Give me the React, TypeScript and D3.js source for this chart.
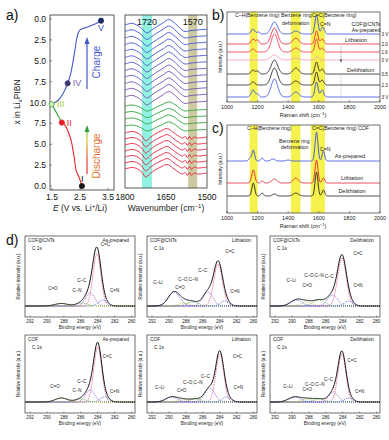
import React, { useRef, useEffect } from 'react';
import * as d3 from 'd3';

const FONT = 'Liberation Sans, Arial, Helvetica, sans-serif';

// ---- a) left: potential profile (x = potential, y = Li content, folded axis 0..10..0)
const dischargeCurve = [[2.57, 0], [2.47, 1.0], [2.36, 1.9], [2.29, 3.5], [2.18, 5.5], [2.08, 6.5], [1.96, 7.3], [1.85, 7.6]];
const transitionCurve = [[1.85, 7.6], [1.67, 8.7], [1.49, 9.8]];
const chargeCurve = [[1.49, 9.8], [1.73, 10.3], [1.9, 11.1], [2.06, 12.3], [2.17, 13.5], [2.24, 14.7], [2.32, 16.3], [2.4, 17.9], [2.5, 18.7], [2.74, 19.0], [3.04, 19.4], [3.25, 19.8]];
const stageNames = ['I', 'II', 'III', 'IV', 'V'];
const stageE = [2.57, 1.85, 1.49, 2.06, 3.25];
const stageLi = [0, 7.6, 9.8, 12.3, 19.8];
const liTicks = [0, 2.5, 5, 7.5, 10, 12.5, 15, 17.5, 20];
const liTickLabels = ['0.0', '2.5', '5.0', '7.5', '10.0', '7.5', '5.0', '2.5', '0.0'];
const potentialTicks = [1.5, 2.5, 3.5];

// ---- a) right: ex-situ FTIR, three spectral shapes
const ftirBlue = [[1800, 0], [1775, 1.7], [1757, 0], [1739, -3.3], [1721, -8], [1702, -5], [1684, -1.7], [1660, 2.3], [1640, 5.5], [1617, 1.7], [1599, -3.3], [1580, -6.5], [1562, -5.7], [1538, -5], [1500, -4.3]];
const ftirGreen = [[1800, 0], [1775, 1], [1757, 0], [1739, -2], [1721, -5], [1702, -3.5], [1684, -1], [1660, 2], [1640, 4], [1617, 1.5], [1599, -2.5], [1580, -5], [1562, -4.5], [1538, -4], [1500, -3.5]];
const ftirRed = [[1800, 0], [1775, 1.5], [1757, 0.5], [1739, -3], [1724, -8], [1710, -5], [1690, -1], [1665, 2.5], [1645, 4.5], [1625, 1], [1605, -3], [1590, -5], [1580, -3.5], [1572, -6.5], [1564, -3.5], [1556, -6.5], [1548, -4], [1535, -5], [1500, -4]];
const ftirOffsets = [163, 156.5, 150, 143.5, 137, 130.5, 124, 117.5, 111, 104.5, 98, 91, 82, 75.5, 69, 62, 55, 49, 43, 37, 31, 25, 19];
const ftirShapeIdx = [0, 0, 0, 0, 0, 0, 0, 0, 0, 0, 0, 0, 1, 1, 1, 1, 2, 2, 2, 2, 2, 2, 2];
const ftirBands = [[1738, 1701], [1569, 1536]];
const ftirBandLabels = ['1720', '1570'];
const ftirTicks = [1800, 1650, 1500];

// ---- b) Raman, COF@CNTs, peaks [shift, height, fwhm]
const ramanBLabels = ['3 V', '2.0', '1.6', '0 V', '0.5', '2.3', '3 V'];
const ramanBOffsets = [68, 58, 50, 42, 28, 17, 5];
const ramanBPeaks = [
  [[1170, 5, 28], [1205, 2, 22], [1310, 12, 50], [1450, 3, 45], [1585, 19, 24], [1626, 7, 24]],
  [[1170, 5, 28], [1200, 4, 22], [1310, 16, 50], [1450, 6, 45], [1585, 13, 24], [1622, 5, 24]],
  [[1170, 3, 28], [1310, 18, 50], [1450, 4, 45], [1585, 13, 24], [1622, 4, 24]],
  [[1310, 5, 55], [1450, 2, 45], [1590, 3, 30]],
  [[1170, 4, 28], [1200, 3, 22], [1310, 14, 50], [1450, 6, 45], [1585, 12, 24], [1622, 5, 24]],
  [[1170, 3, 28], [1310, 17, 50], [1450, 4, 45], [1585, 13, 24], [1622, 5, 24]],
  [[1170, 7, 28], [1200, 3, 22], [1310, 18, 50], [1450, 5, 45], [1585, 15, 24], [1622, 7, 24]],
];
// ---- c) Raman, COF
const ramanCLabels = ['As-prepared', 'Lithiation', 'Delithiation'];
const ramanCOffsets = [52, 30, 17];
const ramanCPeaks = [
  [[1150, 3, 18], [1172, 11, 20], [1230, 3, 20], [1300, 2, 30], [1400, 1, 30], [1585, 29, 22], [1630, 10, 20]],
  [[1172, 13, 24], [1230, 2, 20], [1310, 4, 40], [1450, 5, 40], [1585, 23, 22], [1630, 5, 20]],
  [[1172, 13, 22], [1230, 3, 20], [1310, 2, 30], [1450, 3, 40], [1585, 24, 22], [1630, 6, 20]],
];
const ramanBands = [[1148, 1200], [1418, 1480], [1548, 1640]];
const ramanTicks = [1000, 1200, 1400, 1600, 1800, 2000];

// ---- d) XPS C 1s fits, components [name, BE, height, fwhm]
const xpsSamples = ['COF@CNTs', 'COF@CNTs', 'COF@CNTs', 'COF', 'COF', 'COF'];
const xpsStates = ['As-prepared', 'Lithiation', 'Delithiation', 'As-prepared', 'Lithiation', 'Delithiation'];
const xpsComps: [string, number, number, number][][] = [
  [['C=C', 284.1, 52, 1.1], ['C–C', 284.9, 13, 1.3], ['C=N', 283.4, 6, 1.2], ['C–N', 285.9, 3, 1.5], ['C=O', 288.3, 2.5, 1.8]],
  [['C=C', 284.2, 42, 1.2], ['C–C', 285.4, 14, 1.4], ['C=N', 283.4, 5, 1.2], ['C–O,C–N', 287.2, 4, 1.6], ['C=O', 288.2, 3, 1.5], ['C–Li', 289.4, 14, 1.6]],
  [['C=C', 284.1, 48, 1.2], ['C–C', 285.2, 11, 1.4], ['C=N', 283.3, 5, 1.2], ['C–O,C–N', 286.8, 6, 1.6], ['C=O', 288.3, 4, 1.5], ['C–Li', 289.5, 6, 1.6]],
  [['C=C', 284.0, 55, 1.1], ['C–C', 284.9, 12, 1.3], ['C=N', 283.2, 5, 1.2], ['C–N', 286.0, 3, 1.5], ['C=O', 288.3, 4, 1.7]],
  [['C=C', 284.0, 48, 1.1], ['C–C', 285.2, 14, 1.4], ['C=N', 283.2, 5, 1.2], ['C–O,C–N', 286.9, 3, 1.6], ['C=O', 288.4, 2.5, 1.5], ['C–Li', 289.7, 5, 1.6]],
  [['C=C', 284.1, 48, 1.1], ['C–C', 285.1, 10, 1.3], ['C=N', 283.3, 4, 1.2], ['C–O,C–N', 286.8, 3, 1.6], ['C=O', 288.2, 3, 1.6], ['C–Li', 289.7, 5, 1.7]],
];
// annotation anchors [text, BE, intensity]
const xpsNotes: [string, number, number][][] = [
  [['C=O', 289.3, 16], ['C–N', 286.45, 14], ['C–C', 285.9, 24], ['C=N', 282.0, 14], ['C=C', 283.1, 60]],
  [['C–Li', 291.3, 22], ['C–O,C–N', 287.75, 25], ['C=O', 288.7, 17], ['C–C', 286.0, 34], ['C=C', 282.8, 53], ['C=N', 282.2, 13]],
  [['C–Li', 290.1, 24], ['C=O', 288.2, 19], ['C–O,C–N', 287.4, 29], ['C–C', 285.6, 28], ['C=C', 282.2, 51], ['C=N', 282.2, 19]],
  [['C=O', 289.05, 14], ['C–N', 286.45, 10], ['C–C', 285.9, 19], ['C=C', 282.9, 44], ['C=N', 282.0, 9]],
  [['C–Li', 291.1, 13], ['C=O', 288.5, 10], ['C–O,C–N', 287.2, 18], ['C–C', 285.7, 24], ['C=C', 281.9, 44], ['C=N', 281.8, 13]],
  [['C–Li', 290.5, 14], ['C=O', 288.2, 11], ['C–O,C–N', 287.3, 16], ['C–C', 285.7, 21], ['C=C', 282.9, 40], ['C=N', 282.0, 9]],
];
const xpsTicks = [292, 290, 288, 286, 284, 282, 280];

const compColors: Record<string, string> = {
  'C=C': '#e0306e', 'C–C': '#8a3cc8', 'C=N': '#2f4fe0', 'C–N': '#3aa33a',
  'C–O,C–N': '#3aa33a', 'C=O': '#b8c020', 'C–Li': '#3050d8',
};
const ftirColors = ['#3552d6', '#3a54d4', '#3f55d2', '#4456d0', '#4a56cc', '#5056c8', '#5756c4', '#5e55c0', '#6554bc', '#6c52b8', '#7350b4', '#7a4eb0', '#2ea33a', '#2ea33a', '#2ea33a', '#2ea33a', '#e8203a', '#e8203a', '#e8203a', '#e8203a', '#e8203a', '#e8203a', '#e8203a'];
const ramanBColors = ['#3550e0', '#e8203a', '#e83048', '#f29ac6', '#222', '#222', '#3550e0'];
const ramanCColors = ['#3550e0', '#e8203a', '#222'];

const gauss = (x: number, c: number, h: number, w: number) => h * Math.exp(-4 * Math.LN2 * ((x - c) / w) ** 2);

const App = () => {
  const ref = useRef<SVGSVGElement>(null);

  useEffect(() => {
    const svg = d3.select(ref.current);
    svg.selectAll('*').remove();
    svg.append('rect').attr('width', 389).attr('height', 440).attr('fill', '#fff');

    const txt = (x: number, y: number, s: string, size: number, fill = '#222', anchor = 'middle', rot = 0) => {
      const t = svg.append('text').attr('x', x).attr('y', y).attr('font-size', size).attr('fill', fill)
        .attr('text-anchor', anchor).attr('font-family', FONT).text(s);
      if (rot) t.attr('transform', `rotate(${rot},${x},${y})`);
      return t;
    };
    const frame = (x: number, y: number, w: number, h: number, sw = 0.8) =>
      svg.append('rect').attr('x', x).attr('y', y).attr('width', w).attr('height', h)
        .attr('fill', 'none').attr('stroke', '#333').attr('stroke-width', sw);

    //panel labels
    txt(6, 20, 'a)', 14, '#111', 'start');
    txt(212, 20, 'b)', 14, '#111', 'start');
    txt(212, 133, 'c)', 14, '#111', 'start');
    txt(6, 245, 'd)', 14, '#111', 'start');

    // ---------- a) left
    const xA = d3.scaleLinear().domain([1.5, 3.5]).range([52, 108]);
    const yA = d3.scaleLinear().domain([0, 20]).range([186, 19]);
    frame(50, 15, 64, 175);
    liTicks.forEach((v, i) => {
      svg.append('line').attr('x1', 50).attr('x2', 52).attr('y1', yA(v)).attr('y2', yA(v)).attr('stroke', '#333').attr('stroke-width', 0.6);
      txt(46, yA(v) + 3, liTickLabels[i], 8.5, '#111', 'end');
    });
    potentialTicks.forEach(v => {
      svg.append('line').attr('x1', xA(v)).attr('x2', xA(v)).attr('y1', 190).attr('y2', 188).attr('stroke', '#333').attr('stroke-width', 0.6);
      txt(xA(v), 200, d3.format('.1f')(v), 8.5, '#111');
    });
    const ax = txt(20, 102, 'x in Li', 8.5, '#222', 'middle', -90);
    ax.append('tspan').attr('font-size', 6).attr('dy', 2).text('x');
    ax.append('tspan').attr('dy', -2).text('PIBN');
    const ex = txt(80, 211, '', 8.5);
    ex.append('tspan').attr('font-style', 'italic').text('E');
    ex.append('tspan').text(' (V vs. Li');
    ex.append('tspan').attr('font-size', 6).attr('dy', -3).text('+');
    ex.append('tspan').attr('dy', 3).text('/Li)');

    const lineA = d3.line<number[]>().x(d => xA(d[0])).y(d => yA(d[1])).curve(d3.curveCatmullRom);
    svg.append('path').attr('d', lineA(dischargeCurve)).attr('fill', 'none').attr('stroke', '#e8202a').attr('stroke-width', 1.1);
    svg.append('path').attr('d', lineA(transitionCurve)).attr('fill', 'none').attr('stroke', '#36a33a').attr('stroke-width', 1.1);
    svg.append('path').attr('d', lineA(chargeCurve)).attr('fill', 'none').attr('stroke', '#4358c8').attr('stroke-width', 1.1);

    const markFill = ['#111', '#e8202a', '#dff0c0', '#3a3a70', '#1c2a66'];
    const markStroke = ['#111', '#e8202a', '#36a33a', '#3a3a70', '#1c2a66'];
    const noteColor = ['#111', '#e8202a', '#a8d040', '#7a5cb0', '#3a50c0'];
    const noteDx = [-1, 5, 5, 5, -3];
    const noteDy = [-4, 3, 3, 3, 10];
    stageNames.forEach((n, i) => {
      svg.append('circle').attr('cx', xA(stageE[i])).attr('cy', yA(stageLi[i])).attr('r', 2.6)
        .attr('fill', markFill[i]).attr('stroke', markStroke[i]).attr('stroke-width', 0.8);
      txt(xA(stageE[i]) + noteDx[i], yA(stageLi[i]) + noteDy[i], n, 9, noteColor[i], 'start');
    });

    //arrows
    const defs = svg.append('defs');
    const gr = defs.append('linearGradient').attr('id', 'dis').attr('gradientUnits', 'userSpaceOnUse')
      .attr('x1', 0).attr('y1', 188).attr('x2', 0).attr('y2', 124);
    gr.append('stop').attr('offset', '0%').attr('stop-color', '#e8202a');
    gr.append('stop').attr('offset', '45%').attr('stop-color', '#e84030');
    gr.append('stop').attr('offset', '75%').attr('stop-color', '#d8d020');
    gr.append('stop').attr('offset', '100%').attr('stop-color', '#30a040');
    svg.append('line').attr('x1', 87).attr('x2', 87).attr('y1', 89).attr('y2', 43).attr('stroke', '#4358c8').attr('stroke-width', 1.2);
    svg.append('path').attr('d', 'M87,37 L84.5,44 L89.5,44 Z').attr('fill', '#4358c8');
    svg.append('line').attr('x1', 87).attr('x2', 87).attr('y1', 174).attr('y2', 131).attr('stroke', 'url(#dis)').attr('stroke-width', 1.2);
    svg.append('path').attr('d', 'M87,125 L84.5,132 L89.5,132 Z').attr('fill', '#30a040');
    txt(100, 62, 'Charge', 10, '#4358c8', 'middle', -90);
    txt(100, 156, 'Discharge', 10, 'url(#dis)', 'middle', -90);

    // ---------- a) right FTIR
    const xF = d3.scaleLinear().domain([1800, 1500]).range([125, 207]);
    const yF = d3.scaleLinear().domain([0, 173]).range([188, 15]);
    ftirBands.forEach((b, i) => {
      svg.append('rect').attr('x', xF(b[0])).attr('y', 15).attr('width', xF(b[1]) - xF(b[0])).attr('height', 173)
        .attr('fill', i === 0 ? '#7ff0dc' : '#c4c090').attr('opacity', 0.85);
      txt((xF(b[0]) + xF(b[1])) / 2, 25, ftirBandLabels[i], 9, '#111');
    });
    const shapes = [ftirBlue, ftirGreen, ftirRed];
    ftirOffsets.forEach((off, i) => {
      const line = d3.line<number[]>().x(d => xF(d[0])).y(d => yF(off + d[1])).curve(d3.curveCatmullRom);
      svg.append('path').attr('d', line(shapes[ftirShapeIdx[i]])).attr('fill', 'none')
        .attr('stroke', ftirColors[i]).attr('stroke-width', 0.9);
    });
    frame(125, 15, 82, 173);
    ftirTicks.forEach(v => txt(xF(v), 200, String(v), 8.5, '#111'));
    const wn = txt(166, 211, 'Wavenumber (cm', 8.5);
    wn.append('tspan').attr('font-size', 6).attr('dy', -3).text('−1');
    wn.append('tspan').attr('dy', 3).text(')');

    // ---------- b) / c) Raman
    const xR = d3.scaleLinear().domain([1000, 2000]).range([227, 380]);
    const shifts = d3.range(1000, 2001, 2);
    const raman = (top: number, bottom: number, offsets: number[], peaks: number[][][], colors: string[]) => {
      const yR = d3.scaleLinear().domain([0, bottom - top]).range([bottom, top]);
      ramanBands.forEach(b => svg.append('rect').attr('x', xR(b[0])).attr('y', top).attr('width', xR(b[1]) - xR(b[0]))
        .attr('height', bottom - top).attr('fill', '#f4f03a').attr('opacity', 0.9));
      offsets.forEach((off, i) => {
        const pts = shifts.map(s => [s, off + d3.sum(peaks[i], p => gauss(s, p[0], p[1], p[2]))]);
        const line = d3.line<number[]>().x(d => xR(d[0])).y(d => yR(d[1]));
        svg.append('path').attr('d', line(pts)).attr('fill', 'none').attr('stroke', colors[i]).attr('stroke-width', 0.9);
      });
      frame(227, top, 153, bottom - top, 0.7);
      ramanTicks.forEach(v => {
        svg.append('line').attr('x1', xR(v)).attr('x2', xR(v)).attr('y1', bottom).attr('y2', bottom - 2).attr('stroke', '#333').attr('stroke-width', 0.5);
        txt(xR(v), bottom + 7, String(v), 5.5);
      });
      const rs = txt(303, bottom + 15, 'Raman shift (cm', 5.5);
      rs.append('tspan').attr('font-size', 4).attr('dy', -2).text('−1');
      rs.append('tspan').attr('dy', 2).text(')');
      txt(222, (top + bottom) / 2, 'Intensity (a.u.)', 5, '#222', 'middle', -90);
      return yR;
    };
    const yB = raman(12, 102, ramanBOffsets, ramanBPeaks, ramanBColors);
    ramanBLabels.forEach((l, i) => txt(381.5, yB(ramanBOffsets[i]) + 2, l, 4.6, '#222', 'start'));
    txt(235, 17, 'C–H(Benzene ring)', 5.2, '#222', 'start');
    txt(281, 17, 'Benzene ring', 5.2, '#222', 'start');
    txt(282, 25, 'deformation', 5.2, '#222', 'start');
    txt(312, 17, 'C=C(Benzene ring)', 5.2, '#222', 'start');
    txt(320, 26, 'C=N', 5.2, '#222', 'start');
    txt(366, 26, 'COF@CNTs', 5.2, '#222', 'middle');
    txt(366, 32, 'As-prepared', 5.2, '#222', 'middle');
    txt(345, 42, 'Lithiation', 5.5, '#222', 'start');
    txt(347, 72, 'Delithiation', 5.5, '#222', 'start');
    svg.append('line').attr('x1', 341).attr('x2', 341).attr('y1', 46).attr('y2', 60).attr('stroke', '#555').attr('stroke-width', 0.5).attr('stroke-dasharray', '1.5,1');
    svg.append('path').attr('d', 'M341,63 L339.8,59.5 L342.2,59.5 Z').attr('fill', '#555');
    svg.append('line').attr('x1', 341).attr('x2', 341).attr('y1', 75).attr('y2', 100).attr('stroke', '#999').attr('stroke-width', 0.5).attr('stroke-dasharray', '1.5,1');

    const yC = raman(125, 213, ramanCOffsets, ramanCPeaks, ramanCColors);
    txt(247, 130, 'C–H(Benzene ring)', 5.2, '#222', 'start');
    txt(312, 130, 'C=C(Benzene ring) COF', 5.2, '#222', 'start');
    txt(279, 143, 'Benzene ring', 5.2, '#222', 'start');
    txt(281, 149, 'deformation', 5.2, '#222', 'start');
    txt(320, 151, 'C=N', 5.2, '#222', 'start');
    const cLabX = [350, 352, 352];
    ramanCLabels.forEach((l, i) => txt(cLabX[i], yC(ramanCOffsets[i]) - 3, l, 5.5, '#222', 'middle'));

    // ---------- d) XPS
    const colX = [25, 147, 270];
    const rowY = [236, 335];
    const rowBottom = [317, 413];
    const energies = d3.range(279.6, 292.61, 0.05);
    xpsComps.forEach((comps, k) => {
      const x0 = colX[k % 3];
      const r = Math.floor(k / 3);
      const top = rowY[r];
      const bottom = rowBottom[r];
      const base = bottom - 11;
      const xD = d3.scaleLinear().domain([292.6, 279.6]).range([x0, x0 + 110]);
      const yD = d3.scaleLinear().domain([0, base - top]).range([base, top]);
      const line = d3.line<number[]>().x(d => xD(d[0])).y(d => yD(d[1]));
      comps.forEach(c => {
        const pts = energies.map(e => [e, gauss(e, c[1], c[2], c[3])]);
        svg.append('path').attr('d', line(pts)).attr('fill', 'none').attr('stroke', compColors[c[0]])
          .attr('stroke-width', 0.8).attr('stroke-dasharray', '1,1');
      });
      const env = energies.map(e => [e, d3.sum(comps, c => gauss(e, c[1], c[2], c[3]))]);
      svg.append('path').attr('d', line(env)).attr('fill', 'none').attr('stroke', '#111').attr('stroke-width', 1);
      frame(x0, top, 110, bottom - top, 0.7);
      xpsTicks.forEach(v => {
        svg.append('line').attr('x1', xD(v)).attr('x2', xD(v)).attr('y1', bottom).attr('y2', bottom - 1.5).attr('stroke', '#333').attr('stroke-width', 0.5);
        txt(xD(v), bottom + 6, String(v), 4.5);
      });
      txt(x0 + 55, bottom + 12, 'Binding energy (eV)', 4.8);
      txt(x0 - 5, (top + bottom) / 2, 'Relative intensity (a.u.)', 4.5, '#222', 'middle', -90);
      txt(x0 + 3, top + 6, xpsSamples[k], 4.8, '#222', 'start');
      txt(x0 + 7, top + 14, 'C 1s', 4.8, '#222', 'start');
      txt(x0 + 104, top + 6, xpsStates[k], 4.8, '#222', 'end');
      xpsNotes[k].forEach(n => txt(xD(n[1]), yD(n[2]), n[0], 4.5, '#222', 'middle'));
    });
  }, []);

  return (
    <div style={{ position: 'absolute', left: 0, top: 0 }}>
      <svg ref={ref} width={389} height={440} style={{ display: 'block' }} />
    </div>
  );
};

export default App;
